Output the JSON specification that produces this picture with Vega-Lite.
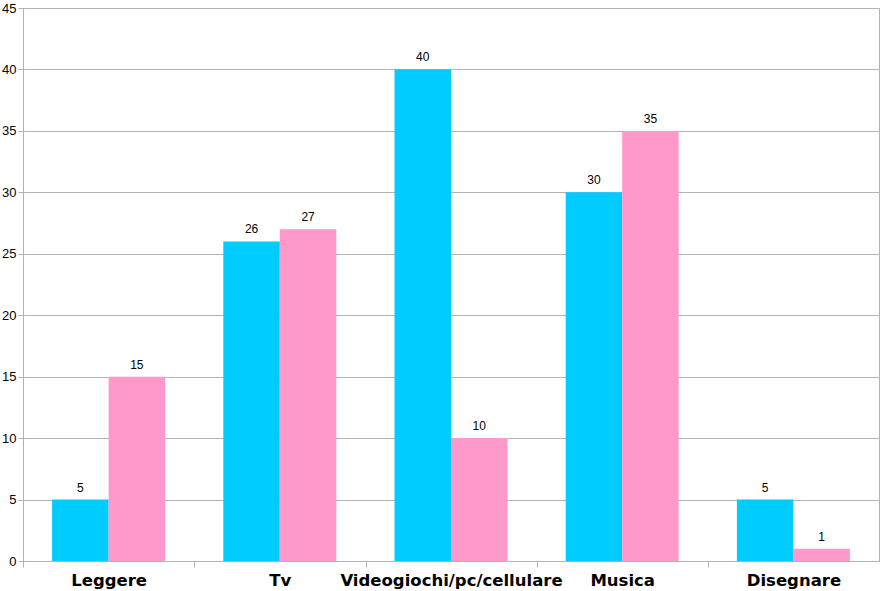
{
  "$schema": "https://vega.github.io/schema/vega-lite/v6.json",
  "autosize": {"type": "none"},
  "width": 856,
  "height": 553,
  "padding": {"left": 23, "top": 8, "right": 1, "bottom": 30},
  "background": "white",
  "config": {"view": {"stroke": "#b3b3b3", "strokeWidth": 1}},
  "data": {
    "values": [
      {"attivita": "Leggere", "gruppo": "Maschi", "valore": 5},
      {"attivita": "Leggere", "gruppo": "Femmine", "valore": 15},
      {"attivita": "Tv", "gruppo": "Maschi", "valore": 26},
      {"attivita": "Tv", "gruppo": "Femmine", "valore": 27},
      {"attivita": "Videogiochi/pc/cellulare", "gruppo": "Maschi", "valore": 40},
      {"attivita": "Videogiochi/pc/cellulare", "gruppo": "Femmine", "valore": 10},
      {"attivita": "Musica", "gruppo": "Maschi", "valore": 30},
      {"attivita": "Musica", "gruppo": "Femmine", "valore": 35},
      {"attivita": "Disegnare", "gruppo": "Maschi", "valore": 5},
      {"attivita": "Disegnare", "gruppo": "Femmine", "valore": 1}
    ]
  },
  "encoding": {
    "x": {
      "field": "attivita",
      "type": "nominal",
      "sort": null,
      "scale": {"paddingInner": 0.34, "paddingOuter": 0.17},
      "axis": {
        "title": null,
        "labelAngle": 0,
        "labelFont": "DejaVu Sans",
        "labelFontWeight": "bold",
        "labelFontSize": 16.5,
        "labelColor": "black",
        "labelPadding": 5,
        "labelLimit": 0,
        "labelAlign": "center",
        "labelBaseline": "top",
        "labelOffset": 29,
        "bandPosition": 0,
        "tickOffset": -29,
        "tickSize": 6,
        "tickColor": "#b3b3b3",
        "domainColor": "#b3b3b3",
        "grid": false
      }
    },
    "xOffset": {"field": "gruppo", "type": "nominal", "sort": ["Maschi", "Femmine"], "scale": {"paddingInner": 0, "paddingOuter": 0}},
    "y": {
      "field": "valore",
      "type": "quantitative",
      "scale": {"domain": [0, 45], "nice": false},
      "axis": {
        "title": null,
        "values": [0, 5, 10, 15, 20, 25, 30, 35, 40, 45],
        "labelFont": "Liberation Sans",
        "labelFontSize": 13,
        "labelColor": "black",
        "labelPadding": 2,
        "tickSize": 5,
        "tickColor": "#b3b3b3",
        "gridColor": "#b3b3b3",
        "domainColor": "#b3b3b3"
      }
    }
  },
  "layer": [
    {
      "mark": {"type": "bar"},
      "encoding": {
        "color": {
          "field": "gruppo",
          "type": "nominal",
          "scale": {"domain": ["Maschi", "Femmine"], "range": ["#00ccff", "#ff99cc"]},
          "legend": null
        }
      }
    },
    {
      "mark": {"type": "text", "baseline": "bottom", "dy": -5, "font": "Liberation Sans", "fontSize": 12, "color": "black"},
      "encoding": {"text": {"field": "valore", "type": "quantitative"}}
    }
  ]
}
